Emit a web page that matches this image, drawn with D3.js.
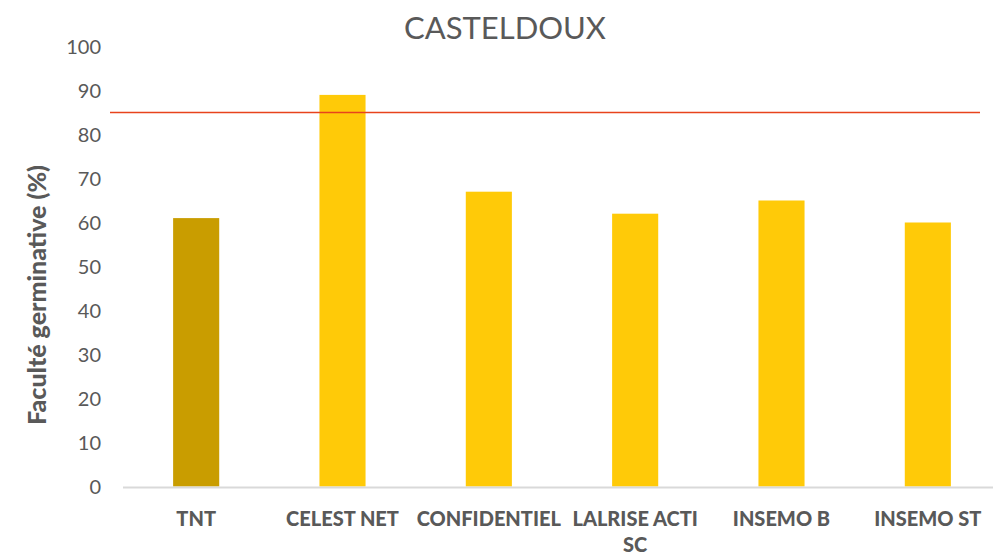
<!DOCTYPE html>
<html><head><meta charset="utf-8">
<script src="https://cdn.jsdelivr.net/npm/d3@7/dist/d3.min.js"></script>
<style>body{margin:0;background:#fff}svg{display:block}text{font-family:Lato,"Open Sans",sans-serif}</style>
</head><body><svg id="c" width="993" height="556"></svg>
<script>
const categories = ["TNT", "CELEST NET", "CONFIDENTIEL", "LALRISE ACTI SC", "INSEMO B", "INSEMO ST"];
const labelLines = [["TNT"], ["CELEST NET"], ["CONFIDENTIEL"], ["LALRISE ACTI", "SC"], ["INSEMO B"], ["INSEMO ST"]];
const values = [61, 89, 67, 62, 65, 60];
const barColors = ["#C99D00", "#FFCA08", "#FFCA08", "#FFCA08", "#FFCA08", "#FFCA08"];
const threshold = 85;
const yTicks = [0, 10, 20, 30, 40, 50, 60, 70, 80, 90, 100];
const title = "CASTELDOUX";
const yTitle = "Faculté germinative (%)";

const svg = d3.select("#c");
const x = d3.scaleBand().domain(categories).range([123, 1001]).paddingInner(0.685).paddingOuter(0.3425);
const y = d3.scaleLinear().domain([0, 100]).range([486.5, 46.5]);
const grey = "#595959";

svg.append("text").attr("x", 505).attr("y", 39).attr("text-anchor", "middle")
  .attr("font-size", 31).attr("fill", grey).text(title);

const ya = svg.append("g").attr("transform", "translate(101,0)")
  .call(d3.axisLeft(y).tickValues(yTicks).tickSize(0).tickPadding(0));
ya.select(".domain").remove();
ya.selectAll("text").attr("font-size", 20).attr("fill", grey).attr("font-family", "Lato").attr("dy", "0.35em");

svg.append("text").attr("transform", `translate(46,295) rotate(-90)`).attr("text-anchor", "middle")
  .attr("font-size", 25).attr("font-weight", 900).attr("fill", grey).text(yTitle);

svg.append("g").selectAll("rect").data(values).join("rect")
  .attr("x", (d, i) => x(categories[i])).attr("width", x.bandwidth())
  .attr("y", d => y(d)).attr("height", d => y(0) - y(d))
  .attr("fill", (d, i) => barColors[i]);

svg.append("line").attr("x1", 123).attr("x2", 993).attr("y1", y(0) + 1).attr("y2", y(0) + 1)
  .attr("stroke", "#D9D9D9").attr("stroke-width", 2);

svg.append("line").attr("x1", 110).attr("x2", 980).attr("y1", y(threshold)).attr("y2", y(threshold))
  .attr("stroke", "#E8431C").attr("stroke-width", 1.5);

const xl = svg.append("g").selectAll("text").data(categories).join("text")
  .attr("text-anchor", "middle").attr("font-size", 20).attr("font-weight", 900).attr("fill", grey)
  .attr("x", d => x(d) + x.bandwidth() / 2).attr("y", 526);
xl.each(function(d, i) {
  d3.select(this).selectAll("tspan").data(labelLines[i]).join("tspan")
    .attr("x", x(d) + x.bandwidth() / 2).attr("dy", (t, j) => j === 0 ? 0 : 26).text(t => t);
});
</script></body></html>
